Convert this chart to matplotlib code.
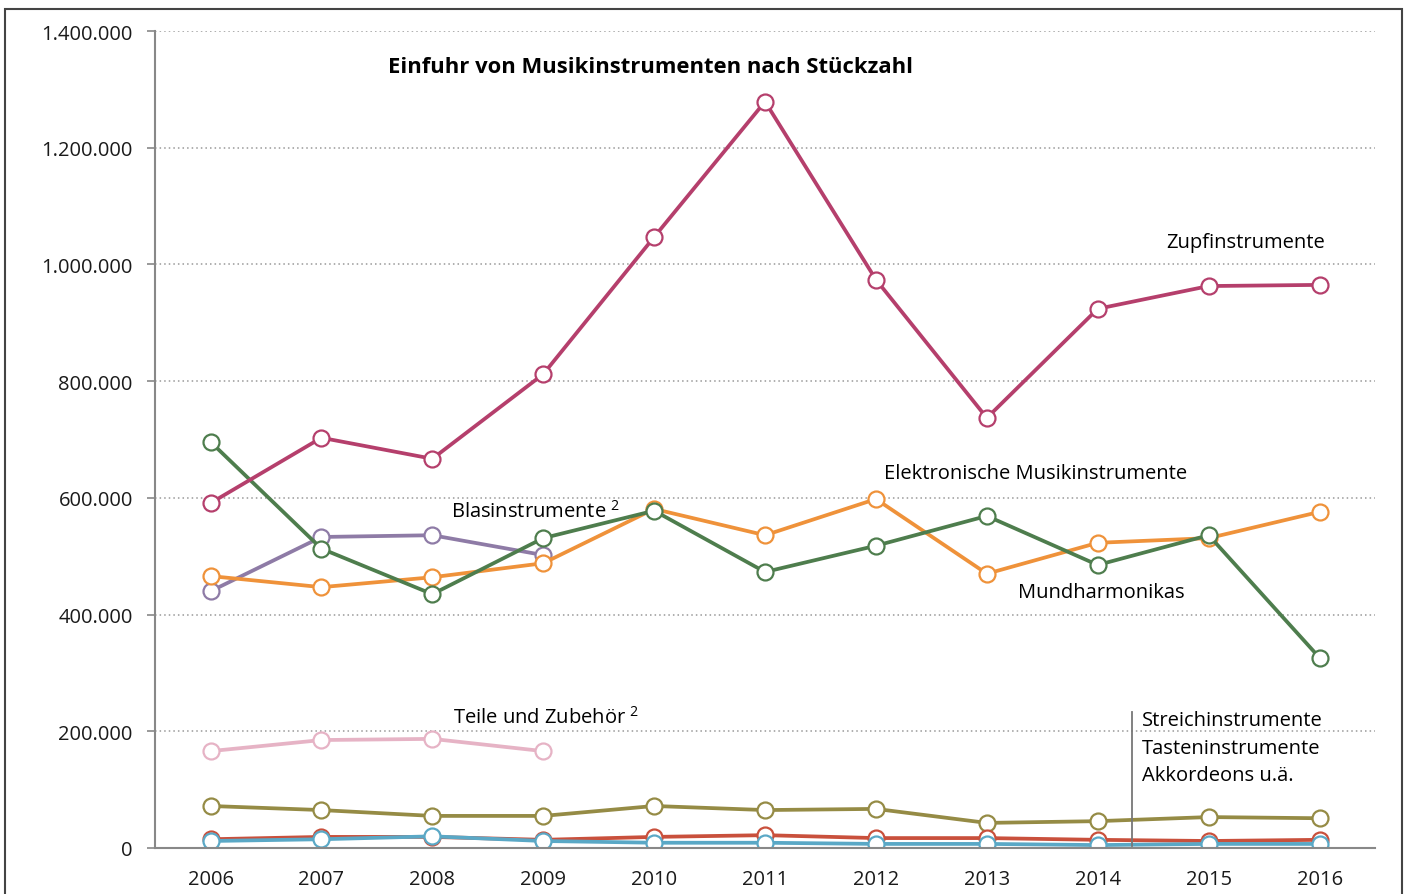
import matplotlib
matplotlib.use("Agg")
import matplotlib.pyplot as plt
from matplotlib.patches import Rectangle
from matplotlib.ticker import FuncFormatter

plt.rcParams['font.family'] = ['Open Sans', 'DejaVu Sans']

# Data (pieces imported per year)
years = [2006, 2007, 2008, 2009, 2010, 2011, 2012, 2013, 2014, 2015, 2016]
years_short = [2006, 2007, 2008, 2009]

zupf = [591000, 703000, 667000, 812000, 1047000, 1279000, 974000, 737000, 924000, 963000, 965000]
mundharmonika = [696000, 513000, 435000, 531000, 578000, 473000, 518000, 569000, 485000, 536000, 326000]
elektronisch = [466000, 447000, 464000, 488000, 581000, 536000, 598000, 470000, 523000, 531000, 576000]
blas = [440000, 533000, 536000, 502000]
teile = [166000, 185000, 187000, 166000]
akkordeon = [72000, 65000, 55000, 55000, 72000, 65000, 67000, 43000, 46000, 53000, 51000]
streich = [15000, 19000, 19000, 14000, 19000, 22000, 17000, 17000, 14000, 12000, 14000]
tasten = [12000, 15000, 20000, 12000, 9000, 9000, 7000, 7000, 5000, 7000, 7000]

yticks = [0, 200000, 400000, 600000, 800000, 1000000, 1200000, 1400000]

fig = plt.figure(figsize=(14.11, 8.95), dpi=100)
ax = fig.add_axes([0.1099, 0.0514, 0.8646, 0.9128])

# outer frame
fig.patches.append(Rectangle((5 / 1411, -0.05), 1397 / 1411, 1.05 - 10 / 895,
                             transform=fig.transFigure, fill=False,
                             edgecolor='#444444', linewidth=1.5))

series = [
    (blas, years_short, '#8e7ba6'),
    (teile, years_short, '#e6b3c5'),
    (akkordeon, years, '#958b45'),
    (streich, years, '#c9503c'),
    (tasten, years, '#5aa8c6'),
    (elektronisch, years, '#ef923a'),
    (mundharmonika, years, '#4e7d4d'),
    (zupf, years, '#b53f6c'),
]
for vals, xs, col in series:
    ax.plot(xs, vals, color=col, lw=2.7, marker='o', ms=11.5,
            mfc='white', mec=col, mew=1.6, solid_capstyle='round')

ax.set_xlim(2005.5, 2016.5)
ax.set_ylim(0, 1400000)
ax.set_xticks(years)
ax.set_yticks(yticks)
ax.yaxis.set_major_formatter(FuncFormatter(lambda v, p: f"{int(v):,}".replace(",", ".")))
ax.tick_params(axis='x', length=0, labelsize=14.5, pad=15, colors='#1a1a1a')
ax.tick_params(axis='y', length=6, width=1.2, color='#888888', labelsize=14.5,
               pad=10, labelcolor='#1a1a1a')

for y in yticks[1:]:
    ax.axhline(y, color='#999999', lw=1.1, ls=(0, (1, 2)), zorder=0)

for s in ['top', 'right']:
    ax.spines[s].set_visible(False)
ax.spines['left'].set_color('#888888')
ax.spines['bottom'].set_color('#888888')
ax.spines['left'].set_linewidth(1.5)
ax.spines['bottom'].set_linewidth(1.5)

fs = 14.5
ax.text(0.406, 0.957, 'Einfuhr von Musikinstrumenten nach Stückzahl', transform=ax.transAxes,
        ha='center', va='center', fontsize=15.8, fontweight='bold')
ax.text(2016.05, 1038000, 'Zupfinstrumente', ha='right', va='center', fontsize=fs)
ax.text(2012.07, 643000, 'Elektronische Musikinstrumente', ha='left', va='center', fontsize=fs)
ax.text(2013.28, 438000, 'Mundharmonikas', ha='left', va='center', fontsize=fs)
ax.text(2008.17, 577000, 'Blasinstrumente $^{\\mathregular{2}}$', ha='left', va='center', fontsize=fs)
ax.text(2008.19, 225000, 'Teile und Zubehör $^{\\mathregular{2}}$', ha='left', va='center', fontsize=fs)
ax.text(2014.4, 172000, 'Streichinstrumente\nTasteninstrumente\nAkkordeons u.ä.',
        ha='left', va='center', fontsize=fs, linespacing=1.52)
ax.plot([2014.31, 2014.31], [4000, 233000], color='#777777', lw=1.3)

fig.savefig('out.png', dpi=100)
